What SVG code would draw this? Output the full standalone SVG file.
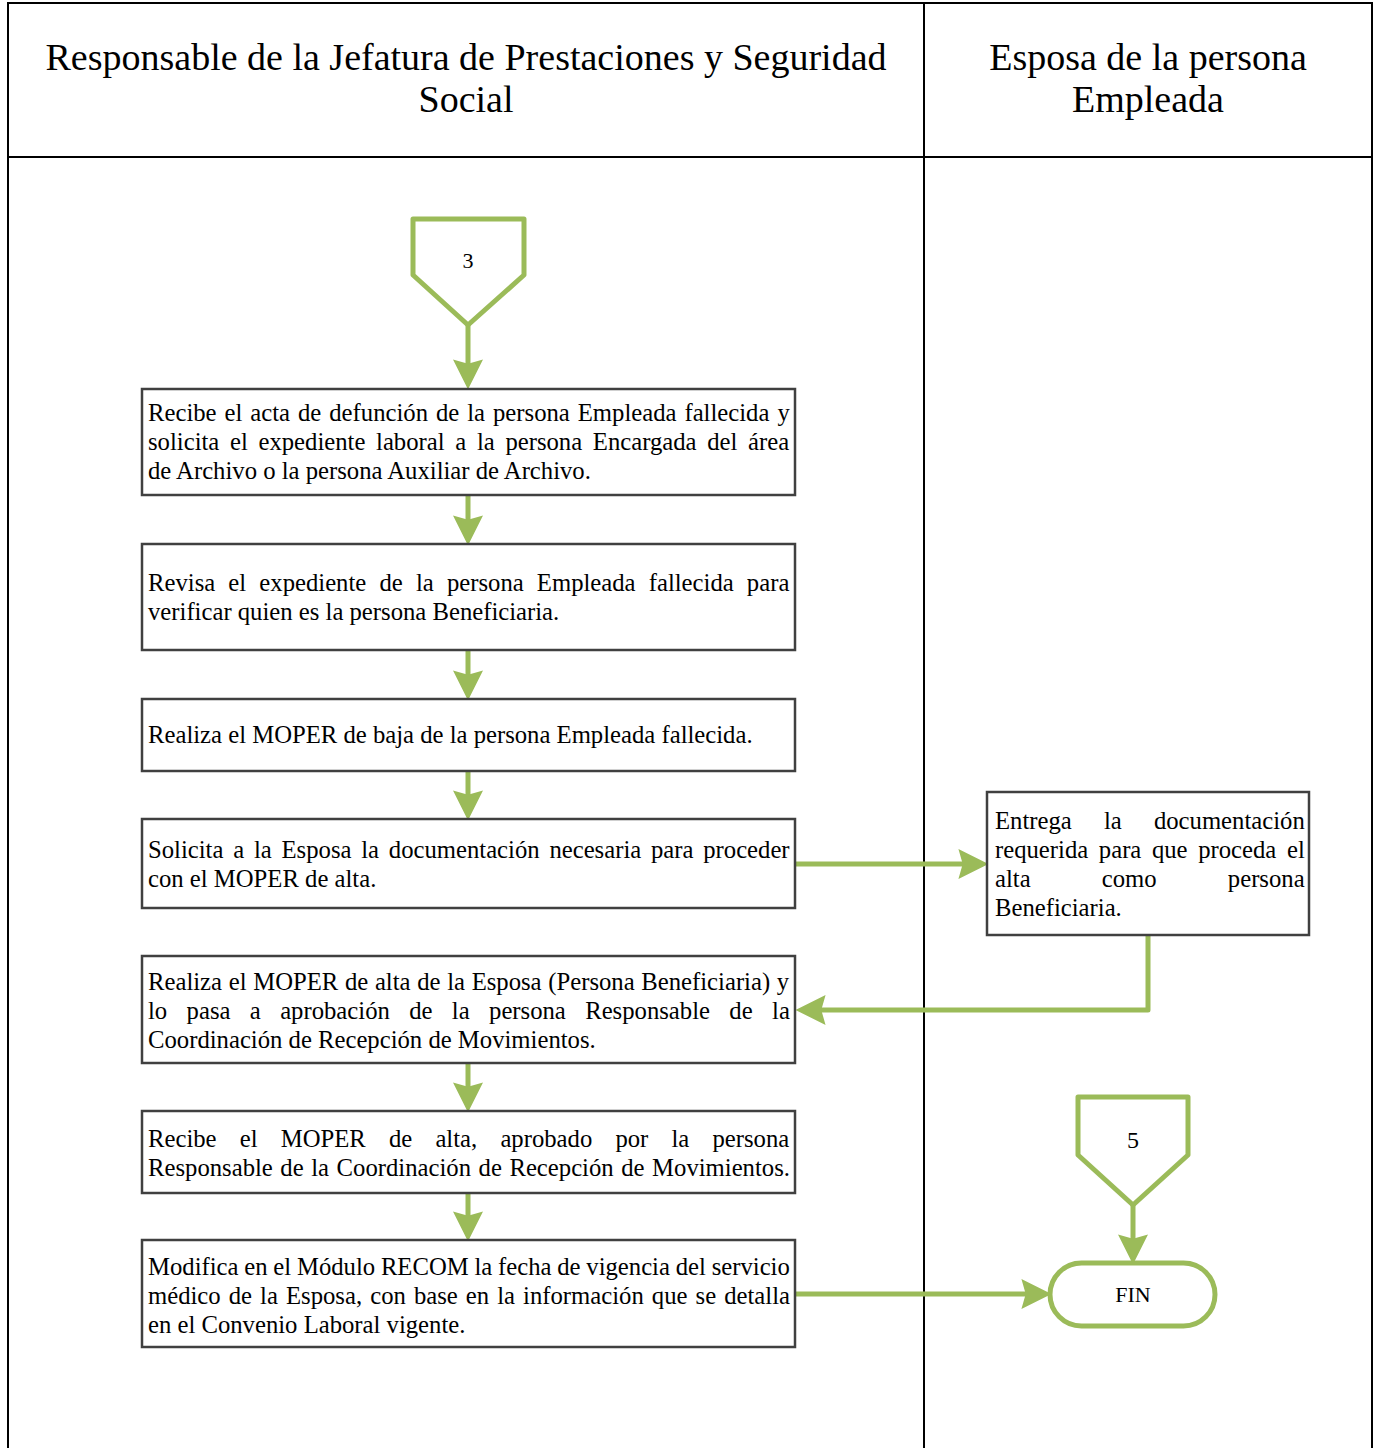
<svg xmlns="http://www.w3.org/2000/svg" width="1374" height="1448" viewBox="0 0 1374 1448">
<style>
.lane{fill:none;stroke:#000;stroke-width:2}
.box{fill:#fff;stroke:#404040;stroke-width:2.5}
.grn{fill:#fff;stroke:#9BBB59;stroke-width:5;stroke-linejoin:round}
.con{fill:none;stroke:#9BBB59;stroke-width:5;stroke-linejoin:round}
.t{font-family:"Liberation Serif","DejaVu Serif",serif;font-size:24.7px;fill:#000}
.s{font-family:"Liberation Serif","DejaVu Serif",serif;font-size:22px;fill:#000;text-anchor:middle}
.h{font-family:"Liberation Serif","DejaVu Serif",serif;font-size:38px;fill:#000;text-anchor:middle}
</style>
<defs>
<marker id="ah" markerUnits="userSpaceOnUse" markerWidth="30" markerHeight="30" viewBox="0 0 28 28" refX="8" refY="14" orient="auto">
<path d="M0,0 L28,14 L0,28 L4,14 z" fill="#9BBB59"/>
</marker>
</defs>
<rect width="1374" height="1448" fill="#fff"/>
<g id="lanes">
<path class="lane" d="M8,1448 V3 H1372 V1448 M8,157 H1372 M924,3 V1448"/>
<text class="h" x="466" y="70">Responsable de la Jefatura de Prestaciones y Seguridad</text>
<text class="h" x="466" y="112">Social</text>
<text class="h" x="1148" y="70">Esposa de la persona</text>
<text class="h" x="1148" y="112">Empleada</text>
</g>
<g id="connectors">
<path class="con" d="M468,325 V368" marker-end="url(#ah)"/>
<path class="con" d="M468,495 V524" marker-end="url(#ah)"/>
<path class="con" d="M468,650 V679" marker-end="url(#ah)"/>
<path class="con" d="M468,771 V799" marker-end="url(#ah)"/>
<path class="con" d="M795,864 H967" marker-end="url(#ah)"/>
<path class="con" d="M1148,935 V1010 H817" marker-end="url(#ah)"/>
<path class="con" d="M468,1063 V1091" marker-end="url(#ah)"/>
<path class="con" d="M468,1193 V1220" marker-end="url(#ah)"/>
<path class="con" d="M795,1294 H1030" marker-end="url(#ah)"/>
<path class="con" d="M1133,1205 V1243" marker-end="url(#ah)"/>
</g>
<g id="c3">
<path class="grn" d="M413,219 H524 V275 L468,325 L413,275 Z"/>
<text class="s" x="468" y="268">3</text>
</g>
<g id="n1">
<rect class="box" x="142" y="389" width="653" height="106"/>
<text class="t" x="148" y="421" word-spacing="1.8">Recibe el acta de defunción de la persona Empleada fallecida y</text>
<text class="t" x="148" y="450" word-spacing="4.5">solicita el expediente laboral a la persona Encargada del área</text>
<text class="t" x="148" y="479">de Archivo o la persona Auxiliar de Archivo.</text>
</g>
<g id="n2">
<rect class="box" x="142" y="544" width="653" height="106"/>
<text class="t" x="148" y="591" word-spacing="7">Revisa el expediente de la persona Empleada fallecida para</text>
<text class="t" x="148" y="620">verificar quien es la persona Beneficiaria.</text>
</g>
<g id="n3">
<rect class="box" x="142" y="699" width="653" height="72"/>
<text class="t" x="148" y="743">Realiza el MOPER de baja de la persona Empleada fallecida.</text>
</g>
<g id="n4">
<rect class="box" x="142" y="819" width="653" height="89"/>
<text class="t" x="148" y="858" word-spacing="3.6">Solicita a la Esposa la documentación necesaria para proceder</text>
<text class="t" x="148" y="887">con el MOPER de alta.</text>
</g>
<g id="n5">
<rect class="box" x="987" y="792" width="322" height="143"/>
<text class="t" x="995" y="829" word-spacing="26">Entrega la documentación</text>
<text class="t" x="995" y="858" word-spacing="4.45">requerida para que proceda el</text>
<text class="t" x="995" y="887" word-spacing="65">alta como persona</text>
<text class="t" x="995" y="916">Beneficiaria.</text>
</g>
<g id="n6">
<rect class="box" x="142" y="956" width="653" height="107"/>
<text class="t" x="148" y="990" word-spacing="0.5">Realiza el MOPER de alta de la Esposa (Persona Beneficiaria) y</text>
<text class="t" x="148" y="1019" word-spacing="13.2">lo pasa a aprobación de la persona Responsable de la</text>
<text class="t" x="148" y="1048">Coordinación de Recepción de Movimientos.</text>
</g>
<g id="n7">
<rect class="box" x="142" y="1111" width="653" height="82"/>
<text class="t" x="148" y="1147" word-spacing="17">Recibe el MOPER de alta, aprobado por la persona</text>
<text class="t" x="148" y="1176" word-spacing="1.4">Responsable de la Coordinación de Recepción de Movimientos.</text>
</g>
<g id="n8">
<rect class="box" x="142" y="1240" width="653" height="107"/>
<text class="t" x="148" y="1275" word-spacing="-0.4">Modifica en el Módulo RECOM la fecha de vigencia del servicio</text>
<text class="t" x="148" y="1304" word-spacing="1.9">médico de la Esposa, con base en la información que se detalla</text>
<text class="t" x="148" y="1333">en el Convenio Laboral vigente.</text>
</g>
<g id="c5">
<path class="grn" d="M1078,1097 H1188 V1155 L1133,1205 L1078,1155 Z"/>
<text class="s" x="1133" y="1148" style="font-size:24px">5</text>
</g>
<g id="fin">
<rect class="grn" x="1050" y="1263" width="165" height="63" rx="31.5"/>
<text class="s" x="1133" y="1302">FIN</text>
</g>
</svg>
